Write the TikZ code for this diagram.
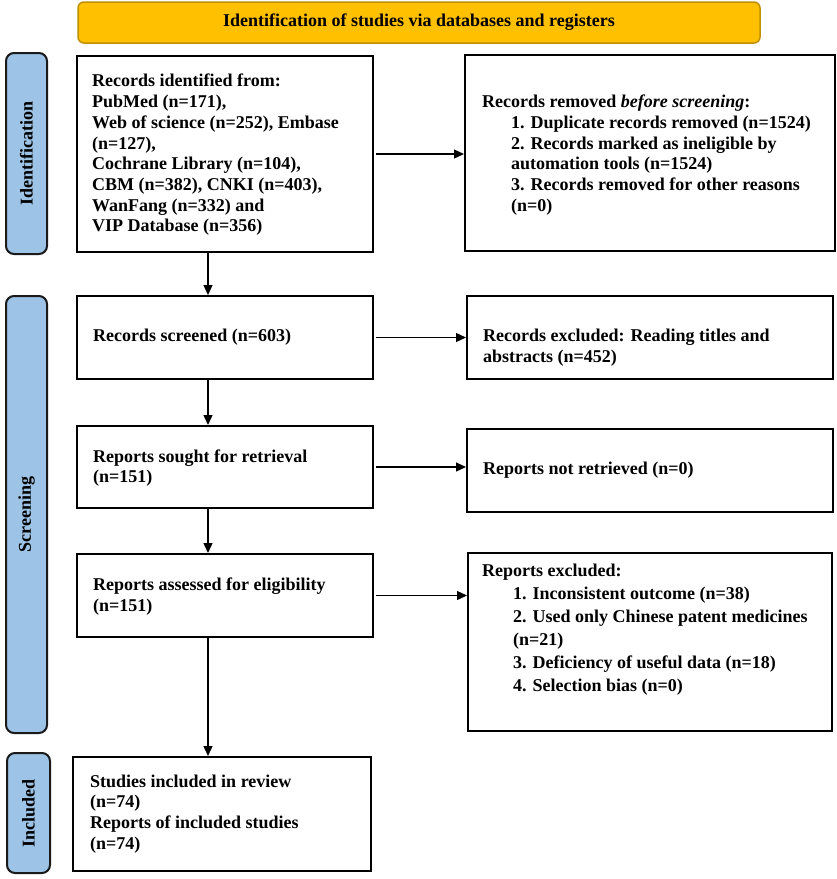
\documentclass[tikz,border=0pt]{standalone}
\usepackage{fontspec}
\setmainfont{Liberation Serif}
\usetikzlibrary{arrows.meta}
\definecolor{bannerfill}{HTML}{FFC000}
\definecolor{bannerdraw}{HTML}{BF9000}
\definecolor{sidefill}{HTML}{9DC3E6}
\definecolor{sidedraw}{HTML}{1A1A1A}
\tikzset{
  box/.style={draw=black, line width=2pt, fill=white, inner sep=0pt, rectangle},
  sidebox/.style={draw=sidedraw, line width=2pt, fill=sidefill, rounded corners=8pt, inner sep=0pt},
  banner/.style={draw=bannerdraw, line width=1.5pt, fill=bannerfill, rounded corners=6pt, inner sep=0pt},
  txt/.style={anchor=west, align=left, inner sep=0pt, font=\fontsize{18pt}{20.7pt}\selectfont\bfseries},
  sidetxt/.style={rotate=90, inner sep=0pt, font=\fontsize{18pt}{20.7pt}\selectfont\bfseries},
  arr/.style={line width=1.3pt, -{Triangle[length=10pt,width=9pt]}}
}
\begin{document}
\begin{tikzpicture}[x=1pt,y=-1pt]
\useasboundingbox (0,0) rectangle (837,879);
\fill[white] (0,0) rectangle (837,879);

% banner
\node[banner, minimum width=682pt, minimum height=41pt] (ban) at (419,22.5) {};
\node[inner sep=0pt, font=\fontsize{18pt}{20.7pt}\selectfont\bfseries] (bant) at (ban.center) {Identification of studies via databases and registers};

% side boxes
\node[sidebox, minimum width=41pt, minimum height=201pt] (s1) at (26.5,153.5) {};
\node[sidetxt] (s1t) at (s1.center) {Identification};
\node[sidebox, minimum width=41pt, minimum height=437pt] (s2) at (26.5,514.5) {};
\node[sidetxt] (s2t) at (s2.center) {Screening};
\node[sidebox, minimum width=43pt, minimum height=120pt] (s3) at (28.5,813) {};
\node[sidetxt] (s3t) at (s3.center) {Included};

% main boxes
\node[box, minimum width=296pt, minimum height=196pt] (b1) at (225,154) {};
\node[box, minimum width=370pt, minimum height=196pt] (r1) at (650,153) {};
\node[box, minimum width=296pt, minimum height=83pt] (b2) at (225,337.5) {};
\node[box, minimum width=366pt, minimum height=83pt] (r2) at (650,337.5) {};
\node[box, minimum width=296pt, minimum height=82pt] (b3) at (225,467) {};
\node[box, minimum width=366pt, minimum height=83pt] (r3) at (650,470.5) {};
\node[box, minimum width=296pt, minimum height=83pt] (b4) at (225,595.5) {};
\node[box, minimum width=364pt, minimum height=178pt] (r4) at (650,642) {};
\node[box, minimum width=298pt, minimum height=114pt] (b5) at (222,814) {};

% texts
\node[txt] (t1) at (92,155) {Records identified from:\\PubMed (n=171),\\Web of science (n=252), Embase\\(n=127),\\Cochrane Library (n=104),\\CBM (n=382), CNKI (n=403),\\WanFang (n=332) and\\VIP Database (n=356)};
\node[txt] (tr1) at (482,155) {Records removed \textit{before screening}:\\
\hspace*{29pt}1. Duplicate records removed (n=1524)\\
\hspace*{29pt}2. Records marked as ineligible by\\
\hspace*{29pt}automation tools (n=1524)\\
\hspace*{29pt}3. Records removed for other reasons\\
\hspace*{29pt}(n=0)};
\node[txt] (t2) at (93,337.5) {Records screened (n=603)};
\node[txt] (tr2) at (483,347.5) {Records excluded: Reading titles and\\abstracts (n=452)};
\node[txt] (t3) at (93,468) {Reports sought for retrieval\\(n=151)};
\node[txt] (tr3) at (483,470.5) {Reports not retrieved (n=0)};
\node[txt] (t4) at (93,596.5) {Reports assessed for eligibility\\(n=151)};
\node[txt, font=\fontsize{18pt}{23pt}\selectfont\bfseries] (tr4) at (482,629.5) {Reports excluded:\\
\hspace*{31pt}1. Inconsistent outcome (n=38)\\
\hspace*{31pt}2. Used only Chinese patent medicines\\
\hspace*{31pt}(n=21)\\
\hspace*{31pt}3. Deficiency of useful data (n=18)\\
\hspace*{31pt}4. Selection bias (n=0)};
\node[txt] (t5) at (90,814) {Studies included in review\\(n=74)\\Reports of included studies\\(n=74)};

% arrows
\coordinate (ax) at (208,0);
\draw[arr] (b1.south -| ax) -- (b2.north -| ax);
\draw[arr] (b2.south -| ax) -- (b3.north -| ax);
\draw[arr] (b3.south -| ax) -- (b4.north -| ax);
\draw[arr] (b4.south -| ax) -- (b5.north -| ax);
\draw[arr, shorten <=2pt] (b1.east) -- (b1.east -| r1.west);
\draw[arr, shorten <=2pt] (b2.east) -- (b2.east -| r2.west);
\draw[arr, shorten <=2pt] (b3.east) -- (b3.east -| r3.west);
\draw[arr, shorten <=2pt] (b4.east) -- (b4.east -| r4.west);
\end{tikzpicture}
\end{document}
